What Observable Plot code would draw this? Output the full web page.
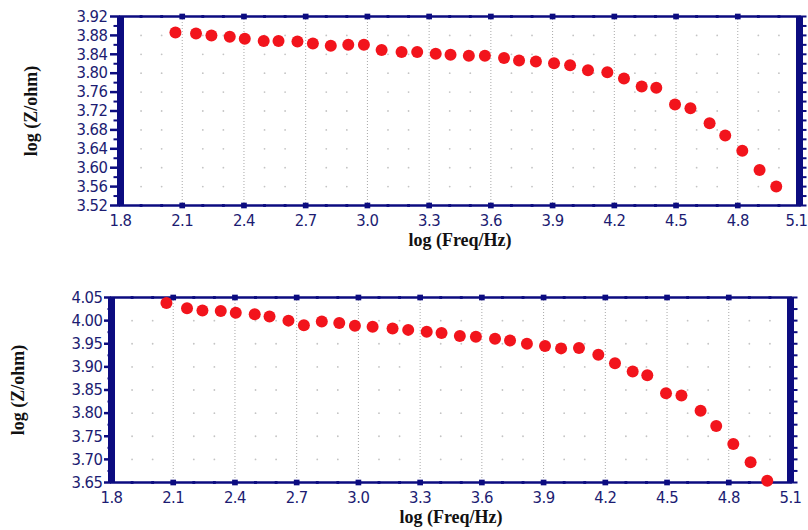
<!DOCTYPE html>
<html>
<head>
<meta charset="utf-8">
<script src="https://cdn.jsdelivr.net/npm/d3@7"></script>
<script src="https://cdn.jsdelivr.net/npm/@observablehq/plot@0.6"></script>
<style>
  body { margin: 0; background: #fff; }
  #wrap { position: relative; width: 808px; height: 530px; overflow: hidden; }
  #wrap svg { position: absolute; left: 0; overflow: visible; }
  #wrap g[aria-label$="tick label"] text {
    font-family: "Liberation Sans Narrow", "DejaVu Sans Condensed", "Arial Narrow", "Liberation Sans", sans-serif;
    font-stretch: condensed; font-size: 16.5px; letter-spacing: -0.5px; fill: #1c1c72;
  }
  #wrap g[aria-label$="axis label"] text {
    font-family: "Liberation Serif", "Times New Roman", serif;
    font-weight: bold; font-size: 18px; fill: #111;
  }
</style>
</head>
<body>
<div id="wrap"></div>
<script>
// ---- data ----
const logFreq = [2.067, 2.167, 2.242, 2.331, 2.404, 2.496, 2.568, 2.660, 2.735, 2.822, 2.907, 2.983,
  3.069, 3.166, 3.242, 3.332, 3.404, 3.493, 3.571, 3.664, 3.737, 3.819, 3.907, 3.985,
  4.072, 4.166, 4.247, 4.333, 4.404, 4.495, 4.570, 4.663, 4.739, 4.822, 4.906, 4.987];
const logZTop = [3.886, 3.884, 3.880, 3.877, 3.873, 3.868, 3.868, 3.867, 3.863, 3.858, 3.860, 3.860,
  3.849, 3.845, 3.845, 3.841, 3.839, 3.837, 3.837, 3.832, 3.827, 3.825, 3.821, 3.817,
  3.806, 3.802, 3.789, 3.772, 3.769, 3.734, 3.726, 3.694, 3.668, 3.636, 3.595, 3.560];
const logZBottom = [4.038, 4.027, 4.022, 4.021, 4.017, 4.014, 4.009, 4.000, 3.990, 3.998, 3.995, 3.989,
  3.987, 3.983, 3.980, 3.976, 3.973, 3.967, 3.965, 3.961, 3.957, 3.950, 3.945, 3.940,
  3.941, 3.926, 3.908, 3.890, 3.882, 3.843, 3.838, 3.805, 3.772, 3.733, 3.694, 3.654];
const xTicks = [1.8, 2.1, 2.4, 2.7, 3.0, 3.3, 3.6, 3.9, 4.2, 4.5, 4.8, 5.1];
const xMinorTicks = [1.9, 2.0, 2.2, 2.3, 2.5, 2.6, 2.8, 2.9, 3.1, 3.2, 3.4, 3.5, 3.7, 3.8, 4.0, 4.1, 4.3, 4.4, 4.6, 4.7, 4.9, 5.0];
const yTicksTop = [3.52, 3.56, 3.60, 3.64, 3.68, 3.72, 3.76, 3.80, 3.84, 3.88, 3.92];
const yTicksBottom = [3.65, 3.70, 3.75, 3.80, 3.85, 3.90, 3.95, 4.00, 4.05];
const xTitle = "log (Freq/Hz)";
const yTitle = "log (Z/ohm)";

const navy = "#0c0c80";

// short horizontal tick symbol (len px, direction -1 = left, +1 = right)
function hTick(len, dir) {
  return {draw(ctx) { ctx.moveTo(0, 0); ctx.lineTo(dir * len, 0); }};
}

function panel({values, yTicks, top, height, mL, mR, mT, mB, yPad, yTickSize, yLabelOffset, xLabelOffset, lastDx}) {
  const data = logFreq.map((f, i) => ({f, z: values[i]}));
  const yMin = yTicks[0], yMax = yTicks[yTicks.length - 1];
  const yStep = yTicks[1] - yTicks[0];
  const yMinor = yTicks.slice(0, -1).map(v => v + yStep / 2);
  const innerY = yTicks.slice(1, -1);
  const gridDots = [];
  for (const x of xMinorTicks) for (const y of innerY) gridDots.push({x, y});
  const innerX = xTicks.slice(1, -1);
  const svg = Plot.plot({
    width: 808, height,
    marginLeft: mL, marginRight: mR, marginTop: mT, marginBottom: mB,
    style: {background: "transparent", overflow: "visible"},
    x: {domain: [1.8, 5.1]},
    y: {domain: [yMin, yMax]},
    marks: [
      Plot.ruleX(innerX, {stroke: "#a8a8a8", strokeWidth: 1, strokeDasharray: "1,2"}),
      Plot.dot(gridDots, {x: "x", y: "y", r: 0.9, fill: "#c4c4c4", stroke: null}),
      Plot.frame({stroke: navy, strokeWidth: 2.5}),
      Plot.dot(innerX, {x: d => d, y: () => yMax, symbol: "square", r: 3.2, fill: navy}),
      Plot.dot(innerX, {x: d => d, y: () => yMin, symbol: "square", r: 3.2, fill: navy}),
      Plot.dot(xMinorTicks, {x: d => d, y: () => yMax, symbol: "square", r: 1.6, fill: navy}),
      Plot.dot(xMinorTicks, {x: d => d, y: () => yMin, symbol: "square", r: 1.6, fill: navy}),
      Plot.dot(yMinor, {x: () => 1.8, y: d => d, symbol: hTick(yTickSize - 3, -1), fill: "none", stroke: navy, strokeWidth: 2}),
      Plot.dot(yTicks.concat(yMinor), {x: () => 5.1, y: d => d, symbol: hTick(7, 1), fill: "none", stroke: navy, strokeWidth: 2}),
      Plot.axisY(yTicks, {anchor: "left", tickSize: yTickSize, tickPadding: yPad, tickFormat: d => d.toFixed(2), stroke: navy, strokeWidth: 2.5,
        label: yTitle, labelAnchor: "center", labelArrow: "none", labelOffset: yLabelOffset}),
      Plot.axisX(xTicks.slice(0, -1), {anchor: "bottom", tickSize: 0, tickPadding: 9, tickFormat: d => d.toFixed(1),
        label: xTitle, labelAnchor: "center", labelArrow: "none", labelOffset: xLabelOffset}),
      Plot.axisX(xTicks.slice(-1), {anchor: "bottom", tickSize: 0, tickPadding: 9, tickFormat: d => d.toFixed(1),
        dx: lastDx, label: null}),
      Plot.ruleX([1.8, 5.1], {stroke: navy, strokeWidth: 7}),
      Plot.dot(data, {x: "f", y: "z", r: 6, fill: "#f2141c", stroke: null})
    ]
  });
  svg.style.top = top + "px";
  return svg;
}

const wrap = document.getElementById("wrap");
wrap.appendChild(panel({values: logZTop, yTicks: yTicksTop, top: 0, height: 250,
  mL: 120, mR: 9, mT: 16, mB: 45, yPad: 3, yTickSize: 10, yLabelOffset: 96, xLabelOffset: 40, lastDx: -3}));
wrap.appendChild(panel({values: logZBottom, yTicks: yTicksBottom, top: 270, height: 260,
  mL: 111, mR: 18, mT: 27, mB: 48, yPad: 2, yTickSize: 7, yLabelOffset: 100, xLabelOffset: 40, lastDx: 0}));
</script>
</body>
</html>
